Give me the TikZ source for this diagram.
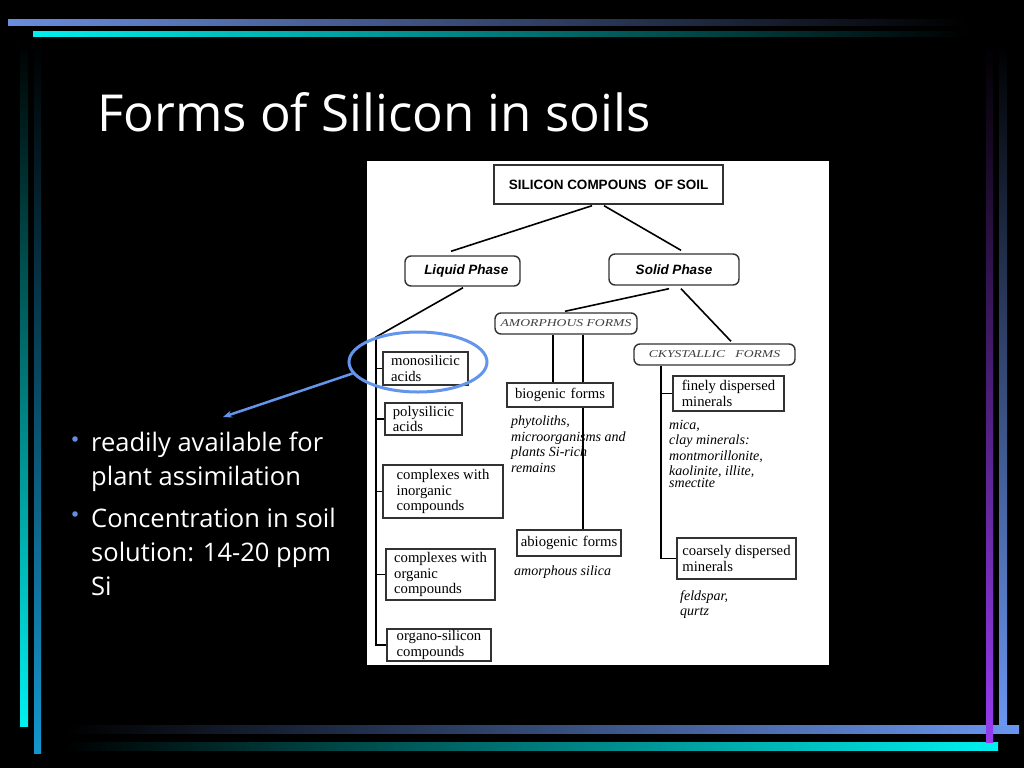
\documentclass[tikz,border=0pt]{standalone}
\usepackage{fontspec}
\setmainfont{Liberation Serif}
\newfontfamily\titlefont{Open Sans}
\newfontfamily\arialfont{Liberation Sans}
\newfontfamily\capsfont[FakeStretch=1.3]{Liberation Serif}
\usetikzlibrary{calc,arrows.meta,shapes.geometric}
\pgfdeclarelayer{back}
\pgfdeclarelayer{mid}
\pgfsetlayers{back,mid,main}
\definecolor{barblue}{RGB}{106,141,224}
\definecolor{barblueb}{RGB}{106,150,240}
\definecolor{barcyan}{RGB}{0,240,240}
\definecolor{barsteel}{RGB}{20,150,205}
\definecolor{barpurple}{RGB}{150,60,240}
\definecolor{boxgray}{RGB}{50,50,50}
\definecolor{annblue}{RGB}{100,149,237}
\definecolor{bulblue}{RGB}{100,140,225}
\begin{document}
\begin{tikzpicture}[x=1pt,y=-1pt,
  bx/.style={draw=boxgray, fill=white, line width=1.4pt, inner sep=0pt, align=left,
    font=\fontsize{14.7}{15.5}\selectfont},
  rbx/.style={draw=boxgray, fill=white, line width=1.4pt, inner sep=0pt, rounded corners=6pt},
  conn/.style={draw=black, line width=1.6pt},
  desc/.style={inner sep=0pt, anchor=north west, align=left, font=\fontsize{14}{15.5}\selectfont\itshape},
  bullettext/.style={anchor=base west, inner sep=0pt, text=white, font=\titlefont\fontsize{25.5}{30}\selectfont}
]
\begin{pgfonlayer}{back}
\fill[black] (0,0) rectangle (1024,768);
\shade[left color=barblue, right color=black] (8,20) rectangle (967,26);
\shade[left color=barcyan, right color=black] (33,32) rectangle (967,37);
\shade[top color=black, bottom color=barcyan] (20,42) rectangle (28,726);
\shade[top color=black, bottom color=barsteel] (34,42) rectangle (41,753);
\shade[left color=black, right color=barblueb] (65,725) rectangle (1019,733);
\shade[left color=black, right color=barcyan] (65,742) rectangle (998,750);
\shade[top color=black, bottom color=barpurple] (986,45) rectangle (993,742);
\shade[top color=black, bottom color=barblueb] (999,45) rectangle (1007,725);
\fill[white] (367,161) rectangle (829,665);
\end{pgfonlayer}
\useasboundingbox (0,0) rectangle (1024,768);

% title
\node[anchor=base west, inner sep=0pt, text=white, font=\titlefont\fontsize{51}{60}\selectfont] (title) at (97,131) {Forms of Silicon in soils};

% bullets
\fill[bulblue] (75,439) circle (2.8);
\fill[bulblue] (75,514) circle (2.8);
\node[bullettext] (b1) at (91,451) {readily available for};
\node[bullettext] (b2) at (91,485) {plant assimilation};
\node[bullettext] (b3) at (91,527) {Concentration in soil};
\node[bullettext] (b4) at (91,561) {solution: 14-20 ppm};
\node[bullettext] (b5) at (91,595) {Si};

% diagram boxes
\node[draw=boxgray, fill=white, line width=1.4pt, minimum width=229, minimum height=39,
  font=\arialfont\bfseries\fontsize{13.5}{15}\selectfont] (top) at (608.5,184.5) {SILICON COMPOUNS\ \ OF SOIL};
\node[rbx, minimum width=115, minimum height=30, font=\arialfont\bfseries\itshape\fontsize{13.5}{15}\selectfont] (liquid) at (462.5,271) {\ \ Liquid Phase};
\node[rbx, minimum width=130, minimum height=31, font=\arialfont\bfseries\itshape\fontsize{13.5}{15}\selectfont] (solid) at (674,269.5) {Solid Phase};
\node[rbx, minimum width=142, minimum height=21, text=black!75, font=\capsfont\itshape\fontsize{10.5}{12}\selectfont] (amorph) at (566,323.5) {AMORPHOUS FORMS};
\node[rbx, minimum width=161, minimum height=21, text=black!75, font=\capsfont\itshape\fontsize{10.5}{12}\selectfont] (ckyst) at (714.5,354.5) {CKYSTALLIC\ \ \ FORMS};

\node[bx, minimum width=85, minimum height=33] (mono) at (425.5,368.5) {monosilicic\\acids};
\node[bx, minimum width=77, minimum height=32] (poly) at (423.5,419) {polysilicic\\acids};
\node[bx, minimum width=120, minimum height=53] (inorg) at (443,491.5) {complexes with\\inorganic\\compounds};
\node[bx, minimum width=109, minimum height=51] (org) at (440.5,574.5) {complexes with\\organic\\compounds};
\node[bx, minimum width=104, minimum height=32] (orgsi) at (439,645) {organo-silicon\\compounds};

\node[bx, minimum width=106, minimum height=24] (bio) at (560,395) {biogenic\hspace{5pt}forms};
\node[bx, minimum width=104, minimum height=26] (abio) at (569,543) {abiogenic\hspace{5pt}forms};
\node[bx, minimum width=111, minimum height=35] (fine) at (728.5,393.5) {finely dispersed\\minerals};
\node[bx, minimum width=119, minimum height=41] (coarse) at (736.5,558.5) {coarsely dispersed\\minerals};

% descriptions
\node[desc] (biod) at (511,416) {phytoliths,\\microorganisms and\\plants Si-rich\\remains};
\node[desc] (abiod) at (514,566) {amorphous silica};
\node[desc] (fined) at (669,420) {mica,\\clay minerals:\\montmorillonite,\\kaolinite, illite,\\[-3.5pt]smectite};
\node[desc] (coarsed) at (680,590) {feldspar,\\qurtz};

% connectors
\coordinate (spine) at (376,337);
\begin{pgfonlayer}{mid}
\draw[conn] ($(top.south)+(-16.5,1)$) -- ($(liquid.north)+(-11.5,-4)$);
\draw[conn] ($(top.south)+(-4.5,1)$) -- ($(solid.north)+(7,-3)$);
\draw[conn] ($(liquid.south)+(0.5,1)$) -- (spine) |- (orgsi.west);
\draw[conn] (spine |- mono.west) -- (mono.west);
\draw[conn] (spine |- poly.west) -- (poly.west);
\draw[conn] (spine |- inorg.west) -- (inorg.west);
\draw[conn] (spine |- org.west) -- (org.west);
\draw[conn] ($(solid.south)+(-5,3)$) -- ($(amorph.north)+(-1,-1)$);
\draw[conn] ($(solid.south)+(7,3)$) -- ($(ckyst.north)+(16.5,-2)$);
\draw[conn] ($(amorph.south)+(-13,0)$) coordinate (a1) -- (a1 |- bio.north);
\draw[conn] ($(amorph.south)+(17,0)$) coordinate (a2) -- (a2 |- abio.north);
\draw[conn] ($(ckyst.south)+(-53.5,0)$) coordinate (c1) |- (coarse.west);
\draw[conn] (c1 |- fine.west) -- (fine.west);
\end{pgfonlayer}

% annotation
\node[ellipse, draw=annblue, line width=3pt, minimum width=138, minimum height=60, inner sep=0pt] (circ) at (418,362) {};
\coordinate (tip) at (223,417);
\draw[annblue, line width=2.5pt, -{Stealth[length=9pt,width=7pt]}] (circ.190) -- (tip);
\end{tikzpicture}
\end{document}
